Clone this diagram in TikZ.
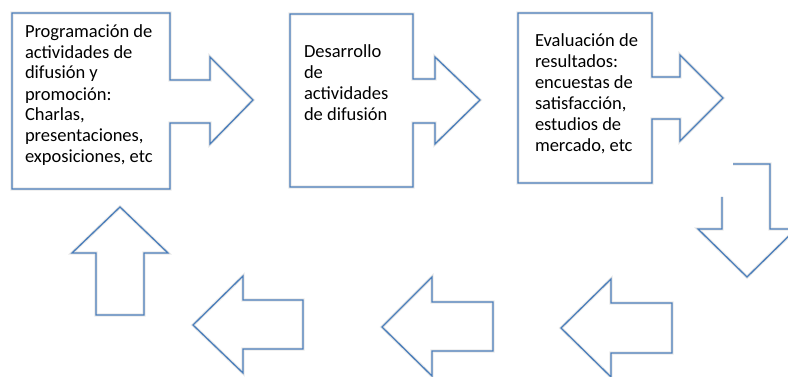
\documentclass[tikz,border=0pt]{standalone}
\usepackage{fontspec}
\setmainfont{Carlito}
\usetikzlibrary{positioning}
\definecolor{callblue}{HTML}{4A7EBB}

\begin{document}
\begin{tikzpicture}[x=1pt,y=-1pt,every node/.style={outer sep=0pt},
 callout/.style={draw=callblue,line width=1.3pt,line join=miter,
 preaction={draw=black!9,line width=3.2pt}},
 boxtext/.style={anchor=base west,inner sep=0pt,align=left,
 font=\fontsize{18.5}{21}\selectfont}]

 \useasboundingbox (0,0) rectangle (788,377);

 % top row: boxes with arrow to the right
 \draw[callout] (12,13) -- (170,13) -- (170,80) -- (210,80) -- (210,57) -- (253,100)
 -- (210,144) -- (210,123) -- (170,123) -- (170,189) -- (12,189) -- cycle;
 \draw[callout] (290,14) -- (413,14) -- (413,79) -- (435,79) -- (435,57) -- (480,100)
 -- (435,144) -- (435,123) -- (413,123) -- (413,187) -- (290,187) -- cycle;
 \draw[callout] (518,13) -- (652,13) -- (652,77) -- (680,77) -- (680,55) -- (723,98)
 -- (680,141) -- (680,119) -- (652,119) -- (652,183) -- (518,183) -- cycle;

 % texts, placed at the baseline of their last line
 \node[boxtext] (prog) at (25,184) {Programación de\\actividades de\\difusión y\\promoción:\\Charlas,\\presentaciones,\\exposiciones, etc\\\mbox{}};
 \node[boxtext] (desa) at (304,121) {\mbox{}\\Desarrollo\\de\\actividades\\de difusión};
 \node[boxtext] (eval) at (535,152) {Evaluación de\\resultados:\\encuestas de\\satisfacción,\\estudios de\\mercado, etc};

 % down arrow (top left corner hidden)
 \draw[callout] (733,164) -- (770,164) -- (770,229) -- (796,229) -- (747,277)
 -- (698,229) -- (722,229) -- (722,197);

 % bottom row: arrows to the left
 \draw[callout] (561,328) -- (611,279) -- (611,303) -- (672,303) -- (672,353)
 -- (611,353) -- (611,377) -- cycle;
 \draw[callout] (382,327) -- (432,277) -- (432,302) -- (493,302) -- (493,351)
 -- (432,351) -- (432,376) -- cycle;
 \draw[callout] (193,325) -- (243,276) -- (243,300) -- (303,300) -- (303,349)
 -- (243,349) -- (243,373) -- cycle;

 % arrow up
 \draw[callout] (120,207) -- (168,253) -- (144,253) -- (144,315) -- (96,315)
 -- (96,253) -- (72,253) -- cycle;

\end{tikzpicture}
\end{document}
